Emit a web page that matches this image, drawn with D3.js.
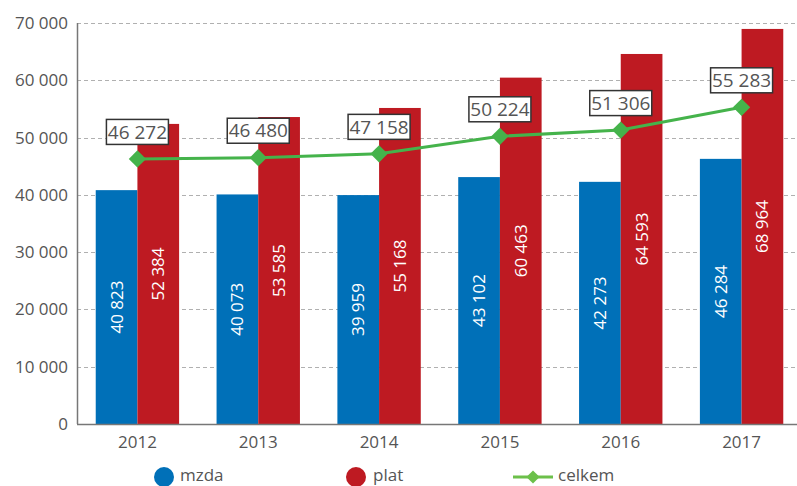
<!DOCTYPE html>
<html>
<head>
<meta charset="utf-8">
<script src="https://cdn.jsdelivr.net/npm/d3@7"></script>
<style>
  body { margin: 0; background: #fff; }
  text { font-family: "Open Sans", "Noto Sans", sans-serif; }
</style>
</head>
<body>
<script>
// data
var years = ["2012", "2013", "2014", "2015", "2016", "2017"];
var mzda = [40823, 40073, 39959, 43102, 42273, 46284];
var plat = [52384, 53585, 55168, 60463, 64593, 68964];
var celkem = [46272, 46480, 47158, 50224, 51306, 55283];
var yTicks = [0, 10000, 20000, 30000, 40000, 50000, 60000, 70000];

var width = 797, height = 486;
var plotLeft = 77, plotRight = 802, plotTop = 23, plotBottom = 424;

var blue = "#0070b8", red = "#be1a22", green = "#45b34b";

var svg = d3.select("body").append("svg")
    .attr("width", width)
    .attr("height", height);

var fmt = function(v) { return d3.format(",")(v).replace(/,/g, " "); };

var x = d3.scaleBand().domain(years).range([plotLeft, plotRight]).paddingInner(0.31).paddingOuter(0.155);
var xc = function(yr) { return x(yr) + x.bandwidth() / 2; };
var y = d3.scaleLinear().domain([0, 70000]).range([plotBottom, plotTop]);

// gridlines
svg.append("g").selectAll("line")
    .data(yTicks.slice(1))
    .enter().append("line")
    .attr("x1", plotLeft).attr("x2", width)
    .attr("y1", function(d) { return Math.round(y(d)) + 0.5; })
    .attr("y2", function(d) { return Math.round(y(d)) + 0.5; })
    .style("stroke", "#b0b0b0")
    .style("stroke-dasharray", "4,3");

// y tick labels
svg.append("g").selectAll("text")
    .data(yTicks)
    .enter().append("text")
    .attr("x", plotLeft - 9)
    .attr("y", function(d) { return y(d); })
    .attr("dy", "0.35em")
    .attr("text-anchor", "end")
    .style("font-size", "17px")
    .style("fill", "#555")
    .text(fmt);

// bars
var bw = x.bandwidth() / 2;
var groups = svg.append("g").selectAll("g")
    .data(years)
    .enter().append("g")
    .attr("transform", function(d) { return "translate(" + x(d) + ",0)"; });

groups.append("rect")
    .attr("x", 0)
    .attr("y", function(d, i) { return y(mzda[i]); })
    .attr("width", bw)
    .attr("height", function(d, i) { return plotBottom - y(mzda[i]); })
    .style("fill", blue);

groups.append("rect")
    .attr("x", bw)
    .attr("y", function(d, i) { return y(plat[i]); })
    .attr("width", bw)
    .attr("height", function(d, i) { return plotBottom - y(plat[i]); })
    .style("fill", red);

// rotated value labels inside bars
groups.append("text")
    .attr("transform", function(d, i) {
        return "translate(" + (bw / 2) + "," + ((y(mzda[i]) + plotBottom) / 2) + ") rotate(-90)";
    })
    .attr("dy", "0.35em")
    .attr("text-anchor", "middle")
    .style("font-size", "17px")
    .style("fill", "#fff")
    .text(function(d, i) { return fmt(mzda[i]); });

groups.append("text")
    .attr("transform", function(d, i) {
        return "translate(" + (bw * 1.5) + "," + ((y(plat[i]) + plotBottom) / 2) + ") rotate(-90)";
    })
    .attr("dy", "0.35em")
    .attr("text-anchor", "middle")
    .style("font-size", "17px")
    .style("fill", "#fff")
    .text(function(d, i) { return fmt(plat[i]); });

// axes lines
svg.append("line")
    .attr("x1", plotLeft + 0.5).attr("x2", plotLeft + 0.5)
    .attr("y1", plotTop).attr("y2", plotBottom)
    .style("stroke", "#777").style("stroke-width", 1.5);
svg.append("line")
    .attr("x1", plotLeft).attr("x2", width)
    .attr("y1", plotBottom + 0.5).attr("y2", plotBottom + 0.5)
    .style("stroke", "#777").style("stroke-width", 1.5);

// x labels
svg.append("g").selectAll("text")
    .data(years)
    .enter().append("text")
    .attr("x", xc)
    .attr("y", plotBottom + 24)
    .attr("text-anchor", "middle")
    .style("font-size", "17px")
    .style("fill", "#555")
    .text(function(d) { return d; });

// celkem line
var line = d3.line()
    .x(function(d, i) { return xc(years[i]); })
    .y(function(d) { return y(d); });

svg.append("path")
    .datum(celkem)
    .attr("d", line)
    .style("fill", "none")
    .style("stroke", green)
    .style("stroke-width", 3);

var diamond = d3.symbol().type(d3.symbolDiamond2).size(190);
svg.append("g").selectAll("path")
    .data(celkem)
    .enter().append("path")
    .attr("d", diamond)
    .attr("transform", function(d, i) { return "translate(" + xc(years[i]) + "," + y(d) + ")"; })
    .style("fill", green);

// boxed labels for celkem
var lab = svg.append("g").selectAll("g")
    .data(celkem)
    .enter().append("g")
    .attr("transform", function(d, i) { return "translate(" + xc(years[i]) + "," + (y(d) - 27) + ")"; });

lab.append("rect")
    .attr("x", -31)
    .attr("y", -12.5)
    .attr("width", 62)
    .attr("height", 25)
    .style("fill", "#fff")
    .style("stroke", "#333")
    .style("stroke-width", 1.5);

lab.append("text")
    .attr("text-anchor", "middle")
    .attr("dy", "0.35em")
    .style("font-size", "19px")
    .style("fill", "#555")
    .text(fmt);

// legend
var ly = 475;
var legend = svg.append("g");
legend.append("circle").attr("cx", 164).attr("cy", ly + 2).attr("r", 10).style("fill", blue);
legend.append("text").attr("x", 180).attr("y", ly).attr("dy", "0.35em")
    .style("font-size", "17px").style("fill", "#555").text("mzda");
legend.append("circle").attr("cx", 356).attr("cy", ly + 2).attr("r", 10).style("fill", red);
legend.append("text").attr("x", 373).attr("y", ly).attr("dy", "0.35em")
    .style("font-size", "17px").style("fill", "#555").text("plat");
legend.append("line").attr("x1", 513).attr("x2", 553).attr("y1", ly + 2).attr("y2", ly + 2)
    .style("stroke", "#6cc04a").style("stroke-width", 3);
legend.append("path").attr("d", d3.symbol().type(d3.symbolDiamond2).size(110))
    .attr("transform", "translate(533," + (ly + 2) + ")").style("fill", "#6cc04a");
legend.append("text").attr("x", 558).attr("y", ly).attr("dy", "0.35em")
    .style("font-size", "17px").style("fill", "#555").text("celkem");
</script>
</body>
</html>
